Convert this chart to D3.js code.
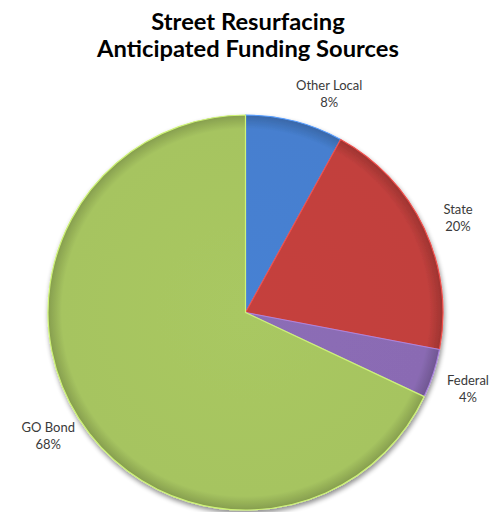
<!DOCTYPE html>
<html>
<head>
<meta charset="utf-8">
<script src="https://cdn.jsdelivr.net/npm/d3@7"></script>
<style>
  body { margin: 0; background: #fff; }
  svg { display: block; }
</style>
</head>
<body>
<div id="chart"></div>
<script>
// chart values
const categories = ["Other Local", "State", "Federal", "GO Bond"];
const shares = [8, 20, 4, 68];
const sliceColors = ["#467fcf", "#c2403d", "#8a6bb3", "#a6c460"];
const title = ["Street Resurfacing", "Anticipated Funding Sources"];

const width = 496, height = 512;
const cx = 245.5, cy = 312.5, radius = 197.5;

const svg = d3.select("#chart").append("svg")
    .attr("width", width)
    .attr("height", height);

const defs = svg.append("defs");

// soft shadow under the pie
const shadow = defs.append("filter").attr("id", "shadow")
    .attr("x", "-10%").attr("y", "-10%").attr("width", "120%").attr("height", "120%");
shadow.append("feGaussianBlur").attr("in", "SourceAlpha").attr("stdDeviation", 2.5);
shadow.append("feOffset").attr("dx", 1).attr("dy", 3).attr("result", "blur");
shadow.append("feComponentTransfer").append("feFuncA").attr("type", "linear").attr("slope", 0.45);
const merge = shadow.append("feMerge");
merge.append("feMergeNode");
merge.append("feMergeNode").attr("in", "SourceGraphic");

// per slice radial gradient, darker at the rim
sliceColors.forEach((c, i) => {
    const g = defs.append("radialGradient")
        .attr("id", "grad" + i)
        .attr("gradientUnits", "userSpaceOnUse")
        .attr("cx", 0).attr("cy", 0).attr("r", radius);
    g.append("stop").attr("offset", "0%").attr("stop-color", d3.color(c).brighter(0.05));
    g.append("stop").attr("offset", "93%").attr("stop-color", c);
    g.append("stop").attr("offset", "100%").attr("stop-color", d3.color(c).darker(0.6));
});

// title, two separate lines, fitted to the reference width
const titleG = svg.append("g").attr("transform", "translate(248,0)");
const titleTexts = titleG.selectAll("text")
    .data(title)
    .join("text")
    .attr("text-anchor", "middle")
    .attr("x", 0)
    .attr("y", (d, i) => 30 + i * 27)
    .style("font-family", "Lato, 'Open Sans', sans-serif")
    .style("font-weight", "bold")
    .style("font-size", "22.5px")
    .style("fill", "#000")
    .text(d => d);
const w2 = titleTexts.nodes()[1].getComputedTextLength();
const sx = Math.min(1.1, 302 / w2);
titleG.attr("transform", `translate(248,0) scale(${sx},1)`);

const pie = d3.pie().sort(null).value(d => d.value);
const data = categories.map((c, i) => ({ name: c, value: shares[i], idx: i }));
const arcs = pie(data);

const arc = d3.arc().innerRadius(0).outerRadius(radius);

const g = svg.append("g").attr("transform", `translate(${cx},${cy})`);

const pieG = g.append("g").attr("filter", "url(#shadow)");

pieG.selectAll("path.slice")
    .data(arcs)
    .join("path")
    .attr("class", "slice")
    .attr("d", arc)
    .attr("fill", d => `url(#grad${d.data.idx})`)
    .attr("stroke", d => d3.color(sliceColors[d.data.idx]).brighter(0.6))
    .attr("stroke-width", 1.2)
    .attr("stroke-linejoin", "round");

// labels outside the pie
const labelArc = d3.arc().innerRadius(236).outerRadius(236);
const labelShift = [[25, 9], [-1, 5], [-2, 3], [2, -4]];

const labels = g.selectAll("text.lbl")
    .data(arcs)
    .join("text")
    .attr("class", "lbl")
    .attr("text-anchor", "middle")
    .style("font-family", "Lato, 'Open Sans', sans-serif")
    .style("font-size", "13px")
    .style("fill", "#3a3a3a")
    .attr("transform", d => {
        const [x, y] = labelArc.centroid(d);
        const s = labelShift[d.data.idx];
        return `translate(${x + s[0]},${y + s[1]})`;
    });

labels.append("tspan").attr("x", 0).attr("y", -3).text(d => d.data.name);
labels.append("tspan").attr("x", 0).attr("y", 14).text(d => d.data.value + "%");
</script>
</body>
</html>
